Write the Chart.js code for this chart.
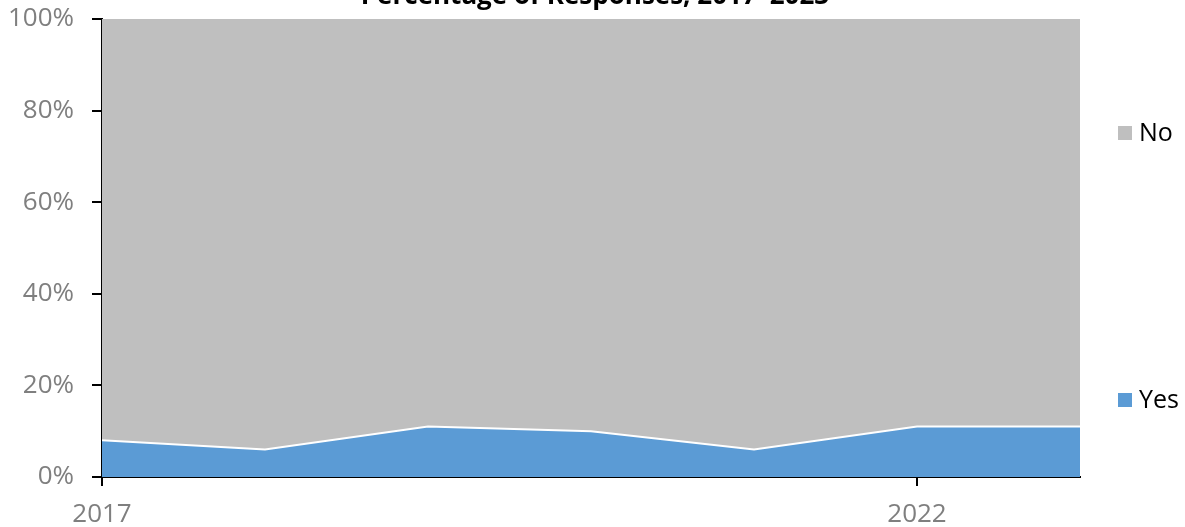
<!DOCTYPE html>
<html>
<head>
<meta charset="utf-8">
<script src="https://cdn.jsdelivr.net/npm/chart.js@4/dist/chart.umd.min.js"></script>
<style>
    html, body { margin: 0; padding: 0; background: #ffffff; overflow: hidden; }
    #wrap { position: relative; width: 1185px; height: 527px; }
</style>
</head>
<body>
<div id="wrap"><canvas id="responses-chart"></canvas></div>
<script>
// Share of responses per year (percent)
const years = [2017, 2018, 2019, 2020, 2021, 2022, 2023];
const yesValues = [8, 6, 11, 10, 6, 11, 11];
const noValues = [92, 94, 89, 90, 94, 89, 89];
const xTickYears = [2017, 2022];
const seriesLabels = ['Yes', 'No'];
const chartTitle = 'Percentage of Responses, 2017–2023';

const YES_COLOR = '#5B9BD5';
const NO_COLOR = '#BFBFBF';
const TICK_COLOR = '#7F7F7F';
const FONT = '"Open Sans", "Liberation Sans", sans-serif';

// Build points for a linear x scale
function toPoints(values) {
    return years.map((year, i) => ({ x: year, y: values[i] }));
}

// Title sits partly above the canvas edge, legend items spread down the right side
const sideDecor = {
    id: 'sideDecor',
    afterDraw(chart) {
        const ctx = chart.ctx;
        ctx.save();
        ctx.font = 'bold 26px ' + FONT;
        ctx.fillStyle = '#000000';
        ctx.textAlign = 'center';
        ctx.textBaseline = 'alphabetic';
        ctx.fillText(chartTitle, 595, 4);

        const spots = { 'No': 133, 'Yes': 400 };
        ctx.font = '25px ' + FONT;
        ctx.textBaseline = 'middle';
        ctx.textAlign = 'left';
        chart.data.datasets.forEach(ds => {
            const y = spots[ds.label];
            ctx.fillStyle = ds.backgroundColor;
            ctx.fillRect(1118, y - 7, 14, 14);
            ctx.fillStyle = '#000000';
            ctx.fillText(ds.label, 1139, y + 1);
        });
        ctx.restore();
    }
};

const ctx = document.getElementById('responses-chart');
window.responsesChart = new Chart(ctx, {
    type: 'line',
    data: {
        datasets: [
            {
                label: seriesLabels[0],
                data: toPoints(yesValues),
                backgroundColor: YES_COLOR,
                borderColor: '#ffffff',
                borderWidth: 2,
                pointRadius: 0,
                fill: 'origin',
                tension: 0
            },
            {
                label: seriesLabels[1],
                data: toPoints(noValues),
                backgroundColor: NO_COLOR,
                borderColor: NO_COLOR,
                borderWidth: 0,
                pointRadius: 0,
                fill: '-1',
                tension: 0
            }
        ]
    },
    options: {
        responsive: true,
        maintainAspectRatio: false,
        animation: false,
        layout: { padding: { left: 0, right: 105, top: 19, bottom: 0 } },
        plugins: {
            legend: { display: false },
            tooltip: { enabled: false },
            title: { display: false }
        },
        scales: {
            x: {
                type: 'linear',
                min: 2017,
                max: 2023,
                afterBuildTicks: scale => {
                    scale.ticks = xTickYears.map(v => ({ value: v }));
                },
                afterFit: scale => {
                    scale.height = 50;
                    scale.paddingLeft = 0;
                    scale.paddingRight = 0;
                },
                ticks: {
                    color: TICK_COLOR,
                    font: { family: FONT, size: 26 },
                    padding: 13,
                    maxRotation: 0,
                    autoSkip: false,
                    callback: value => String(value)
                },
                grid: {
                    drawOnChartArea: false,
                    drawTicks: true,
                    tickLength: 9,
                    color: '#000000',
                    lineWidth: 2
                },
                border: { display: true, color: '#000000', width: 2 }
            },
            y: {
                stacked: true,
                min: 0,
                max: 100,
                afterFit: scale => {
                    scale.width = 102;
                    scale.paddingTop = 0;
                    scale.paddingBottom = 0;
                },
                ticks: {
                    stepSize: 20,
                    color: TICK_COLOR,
                    font: { family: FONT, size: 26 },
                    padding: 18,
                    callback: value => value + '%'
                },
                grid: {
                    drawOnChartArea: false,
                    drawTicks: true,
                    tickLength: 10,
                    color: '#000000',
                    lineWidth: 2
                },
                border: { display: true, color: '#000000', width: 2 }
            }
        }
    },
    plugins: [sideDecor]
});
</script>
</body>
</html>
